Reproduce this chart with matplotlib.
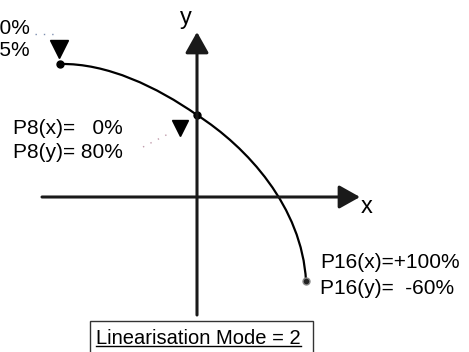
import matplotlib.pyplot as plt
from matplotlib.path import Path
from matplotlib.patches import PathPatch, Rectangle

plt.rcParams['font.family'] = ['Liberation Sans', 'DejaVu Sans']

# diagram units: origin where the axes cross, roughly 1 unit = 1 px
pt_names = ["P0", "P8", "P16"]
pt_x = [-137, 0, 109]
pt_y = [133, 82, -84]
pt_labels = [
    ["P0(x)=-100%", "P0(y)=  95%"],
    ["P8(x)=   0%", "P8(y)= 80%"],
    ["P16(x)=+100%", "P16(y)=  -60%"],
]
# bezier handles for the two curve segments
ctrl1 = [(-90, 134), (-40, 110)]
ctrl2 = [(50, 50), (105, -10)]

mode_text = "Linearisation Mode = 2"

fig = plt.figure(figsize=(4.69, 3.52), dpi=100)
ax = fig.add_axes([0, 0, 1, 1])
ax.set_xlim(-197, 272)
ax.set_ylim(-155, 197)
ax.axis('off')

axcol = '#1a1a1a'
arrow = dict(arrowstyle='-|>,head_length=0.75,head_width=0.42',
             lw=2.2, color=axcol, mutation_scale=17, shrinkA=0, shrinkB=0)
# axes with arrows
ax.annotate('', xy=(163, 0), xytext=(-155, 0), arrowprops=arrow)
ax.annotate('', xy=(0, 165), xytext=(0, -118), arrowprops=arrow)
ax.text(170, -10, "x", fontsize=17, ha='center', va='center')
ax.text(-11, 179, "y", fontsize=17, ha='center', va='center')

# curve
verts = [(pt_x[0], pt_y[0]), ctrl1[0], ctrl1[1], (pt_x[1], pt_y[1]),
         ctrl2[0], ctrl2[1], (pt_x[2], pt_y[2])]
codes = [Path.MOVETO] + [Path.CURVE4] * 6
ax.add_patch(PathPatch(Path(verts, codes), fill=False, lw=1.6, color='black'))
ax.plot(pt_x[:2], pt_y[:2], 'o', ms=5, color='black')
ax.plot(pt_x[2], pt_y[2], 'o', ms=5, mfc='#222222', mec='#888888', mew=1)

# point labels
fs = 15
ax.text(-167, 169, pt_labels[0][0], fontsize=fs, ha='right', va='center')
ax.text(-167, 147, pt_labels[0][1], fontsize=fs, ha='right', va='center')
ax.text(-184, 69, pt_labels[1][0], fontsize=fs, ha='left', va='center')
ax.text(-184, 45, pt_labels[1][1], fontsize=fs, ha='left', va='center')
ax.text(123, -66, pt_labels[2][0], fontsize=fs, ha='left', va='center')
ax.text(123, -91, pt_labels[2][1], fontsize=fs, ha='left', va='center')

# pointer triangles and dotted leaders
ax.plot([-138], [148], 'v', ms=13, color='black')
ax.plot([-17.5], [69], 'v', ms=12, color='black')
ax.plot([-162, -137], [163, 163], ls=(0, (1, 5)), lw=1, color='#7f8fb0')
ax.plot([-54, -25], [50, 65], ls=(0, (1, 5)), lw=1, color='#c09aaa')

# mode box
ax.add_patch(Rectangle((-107, -165), 223, 41, fill=False, lw=1, ec='#333333'))
t = ax.text(-101, -141, mode_text, fontsize=14.5, ha='left', va='center')
fig.canvas.draw()
bb = t.get_window_extent(fig.canvas.get_renderer()).transformed(ax.transData.inverted())
ax.plot([bb.x0, bb.x1], [-149, -149], lw=1, color='black')

fig.savefig("out.png", dpi=100)
